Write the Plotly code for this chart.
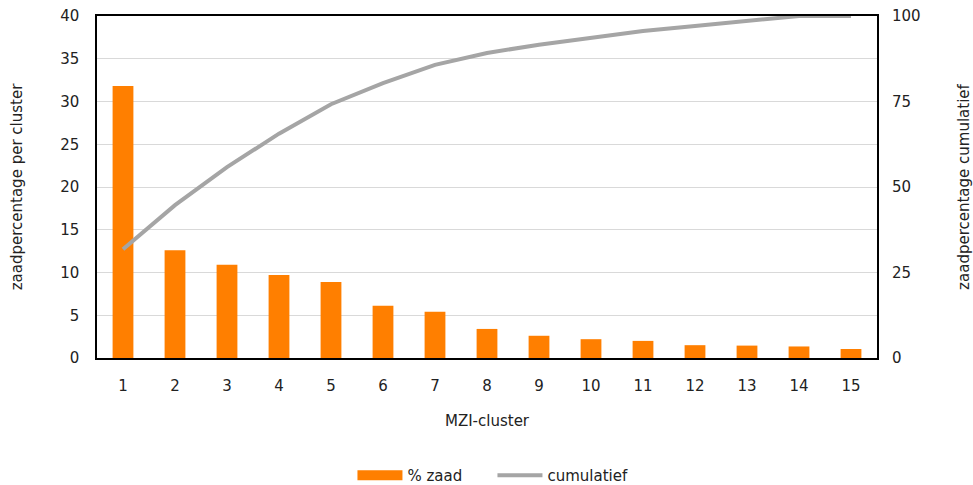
import plotly.graph_objects as go

clusters = [str(i) for i in range(1, 16)]
pct_zaad = [31.8, 12.6, 10.9, 9.7, 8.9, 6.1, 5.4, 3.4, 2.6, 2.2, 2.0, 1.5, 1.45, 1.35, 1.05]
cumulatief = [31.8, 44.7, 55.8, 65.6, 74.2, 80.4, 85.7, 89.2, 91.6, 93.7, 95.6, 97.1, 98.6, 100.0, 100.0]

FONT = "DejaVu Sans"
ORANGE = "#FF7F00"
GREY = "#A5A5A5"
fig = go.Figure()
fig.add_trace(go.Bar(x=clusters, y=pct_zaad, name="% zaad", marker_color=ORANGE,
                     marker_line_width=0, width=0.4, showlegend=False))
# legend proxy for the bar series (wide rectangle symbol)
fig.add_trace(go.Scatter(x=[None], y=[None], name="% zaad", mode="lines",
                         line=dict(color=ORANGE, width=11)))
fig.add_trace(go.Scatter(x=clusters, y=cumulatief, name="cumulatief", yaxis="y2",
                         mode="lines", line=dict(color=GREY, width=4), cliponaxis=False))

fig.update_layout(
    width=973, height=485,
    margin=dict(l=97, r=96, t=16, b=127, autoexpand=False),
    paper_bgcolor="white", plot_bgcolor="white",
    font=dict(family=FONT, size=15, color="#222222"),
    showlegend=True,
    legend=dict(orientation="h", x=0.507, xanchor="center", y=-0.295, yanchor="top",
                font=dict(size=15), itemwidth=45, entrywidth=80, traceorder="normal"),
    xaxis=dict(type="category", showline=True, linecolor="black", linewidth=1.5, mirror=True,
               showgrid=False, ticks="", ticklabelstandoff=13, automargin=False,
               title=dict(text="MZI-cluster", standoff=22, font=dict(size=15))),
    yaxis=dict(range=[0, 40], dtick=5, showline=True, linecolor="black", linewidth=1.5,
               mirror=True, automargin=False,
               gridcolor="#D9D9D9", gridwidth=1, zeroline=False, ticks="", ticklabelstandoff=13,
               title=dict(text="zaadpercentage per cluster", standoff=34, font=dict(size=15))),
    yaxis2=dict(range=[0, 100], dtick=25, overlaying="y", side="right", showgrid=False,
                zeroline=False, showline=False, ticks="", ticklabelstandoff=14, automargin=False,
                title=dict(text="zaadpercentage cumulatief", standoff=40, font=dict(size=15))),
)

fig.write_html("out.html", config={"displayModeBar": False},
               post_script="document.body.style.margin='0';document.body.style.overflow='hidden';")
